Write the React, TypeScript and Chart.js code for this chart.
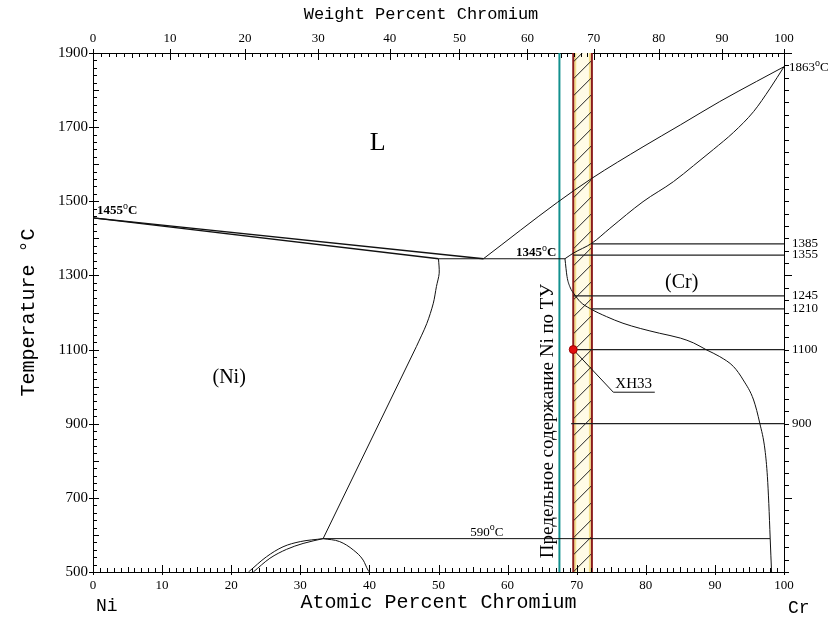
import React, { useEffect, useRef } from "react";
import { Chart, registerables } from "chart.js";

Chart.register(...registerables);

// ---- axis tick labels ----
const AT_TICKS = [0, 10, 20, 30, 40, 50, 60, 70, 80, 90, 100];
const WT_TICKS = [0, 10, 20, 30, 40, 50, 60, 70, 80, 90, 100];
const TEMP_TICKS = [500, 700, 900, 1100, 1300, 1500, 1700, 1900];
const RIGHT_TICKS = [900, 1100, 1210, 1245, 1355, 1385];

// ---- phase boundaries (atomic % Cr, °C) ----
const NI_LIQUIDUS: number[][] = [[0, 1455], [56.5, 1345]];
const NI_SOLIDUS: number[][] = [[0, 1455], [50, 1345]];
const EUTECTIC: number[][] = [[50, 1345], [68.3, 1345]];
const CR_LIQUIDUS: number[][] = [
  [56.5, 1345], [67.2, 1497], [72.2, 1562], [79.6, 1647], [85, 1706],
  [90.7, 1769], [96, 1823], [100, 1863],
];
const CR_SOLIDUS: number[][] = [
  [68.3, 1345], [69.5, 1360], [72.2, 1387], [74.8, 1427], [79.6, 1499],
  [84, 1553], [86.9, 1596], [89.8, 1640], [92.7, 1686], [95.6, 1742],
  [98, 1805], [100, 1863],
];
const NI_SOLVUS_TOP: number[][] = [
  [50, 1345], [50.1, 1306], [49.7, 1270], [49.25, 1225], [48.3, 1170], [46.8, 1108],
];
const NI_SOLVUS_LOW: number[][] = [[46.8, 1108], [33.3, 590]];
const CR_SOLVUS: number[][] = [
  [68.3, 1345], [68.6, 1297], [69, 1270], [69.75, 1247], [70.5, 1229],
  [71.9, 1211], [74.3, 1189], [76.7, 1171], [79.2, 1157], [82, 1144],
  [85, 1131], [86.9, 1118], [88.8, 1099], [90.7, 1081], [92.7, 1054],
  [94.1, 1018], [95.6, 964], [96.5, 901], [97.25, 829], [97.6, 757],
  [97.8, 685], [98, 591], [98.2, 500],
];
const EUTECTOID: number[][] = [[33.3, 590], [98, 590]];
const DOME_OUTER: number[][] = [[22.5, 500], [25.1, 541], [27.5, 568], [30, 582], [33.3, 590]];
const DOME_INNER: number[][] = [[23.2, 500], [25.6, 537], [28, 561], [30.4, 577], [33.3, 590]];
const DOME_RIGHT: number[][] = [[33.3, 590], [35.7, 582], [37.7, 559], [39.1, 532], [39.8, 505], [40, 500]];

// ---- isotherms to the right axis: [temperature, start x] ----
const ISO_TEMPS = [1385, 1355, 1245, 1210, 1100, 900];
const ISO_START = [72.2, 69.5, 69.5, 72.2, 69.5, 69.2];

// ---- marks ----
const NI_LIMIT = 67.5;          // teal line
const BAND = [69.5, 72.2];      // hatched band
const ALLOY: number[] = [69.5, 1100]; // ХН33 point
const LEADER: number[][] = [[69.5, 1100], [75.3, 985], [81.3, 985]];

const CR_MASS = 51.996;
const NI_MASS = 58.693;
const wtToAt = (w: number) => {
  if (w <= 0) return 0;
  if (w >= 100) return 100;
  const a = w / CR_MASS;
  const b = (100 - w) / NI_MASS;
  return (100 * a) / (a + b);
};

const pts = (arr: number[][]) => arr.map(([x, y]) => ({ x, y }));
const line = (arr: number[][], color = "#111", width = 1, smooth: "none" | "mono" | "soft" = "none") => ({
  data: pts(arr),
  showLine: true,
  borderColor: color,
  borderWidth: width,
  pointRadius: 0,
  tension: smooth === "soft" ? 0.3 : smooth === "mono" ? 0.4 : 0,
  cubicInterpolationMode: smooth === "mono" ? "monotone" : "default",
  fill: false,
});

const SERIF = "'Liberation Serif', 'Times New Roman', serif";
const MONO = "'Liberation Mono', 'Courier New', monospace";
const plain = (v: any) => String(v);

const decoPlugin = {
  id: "deco",
  beforeDatasetsDraw(chart: any) {
    const { ctx, chartArea: ca, scales } = chart;
    const x = scales.x;
    const x1 = x.getPixelForValue(BAND[0]);
    const x2 = x.getPixelForValue(BAND[1]);
    const h = ca.bottom - ca.top;
    ctx.save();
    ctx.fillStyle = "#fffbe6";
    ctx.fillRect(x1, ca.top, x2 - x1, h);
    ctx.fillStyle = "#f3df8a";
    ctx.fillRect(x1 + 1, ca.top, 2, h);
    ctx.fillRect(x2 - 3, ca.top, 2, h);
    ctx.beginPath();
    ctx.rect(x1, ca.top, x2 - x1, h);
    ctx.clip();
    ctx.beginPath();
    ctx.strokeStyle = "#222";
    ctx.lineWidth = 1;
    const w = x2 - x1;
    for (let yy = ca.bottom; yy > ca.top - w; yy -= 17) {
      ctx.moveTo(x1, yy);
      ctx.lineTo(x2, yy - w);
    }
    ctx.stroke();
    ctx.restore();
  },
  afterDraw(chart: any) {
    const { ctx, chartArea: ca, scales } = chart;
    const x = scales.x;
    const y = scales.y;
    ctx.save();
    ctx.strokeStyle = "#000";
    ctx.lineWidth = 1;
    ctx.beginPath();
    // bottom ticks (atomic %)
    for (let v = 0; v <= 100; v++) {
      const px = Math.round(x.getPixelForValue(v)) + 0.5;
      if (v % 10 === 0) {
        ctx.moveTo(px, ca.bottom + 3);
        ctx.lineTo(px, ca.bottom - 7);
      } else {
        ctx.moveTo(px, ca.bottom);
        ctx.lineTo(px, ca.bottom - (v % 5 === 0 ? 5 : 4));
      }
    }
    // top ticks (weight %)
    for (let w = 0; w <= 100; w++) {
      const px = Math.round(x.getPixelForValue(wtToAt(w))) + 0.5;
      if (w % 10 === 0) {
        ctx.moveTo(px, ca.top - 4);
        ctx.lineTo(px, ca.top + 7);
      } else {
        ctx.moveTo(px, ca.top);
        ctx.lineTo(px, ca.top + (w % 5 === 0 ? 5 : 4));
      }
    }
    // left ticks
    for (let t = 500; t <= 1900; t += 20) {
      const py = Math.round(y.getPixelForValue(t)) + 0.5;
      if (t % 200 === 100) {
        ctx.moveTo(ca.left - 4, py);
        ctx.lineTo(ca.left + 6, py);
      } else if (t % 100 === 0) {
        ctx.moveTo(ca.left, py);
        ctx.lineTo(ca.left + 6, py);
      } else {
        ctx.moveTo(ca.left, py);
        ctx.lineTo(ca.left + 4, py);
      }
    }
    // right ticks
    for (let k = 0; k <= 42; k++) {
      const t = 500 + (k * 100) / 3;
      const py = Math.round(y.getPixelForValue(t)) + 0.5;
      ctx.moveTo(ca.right, py);
      ctx.lineTo(ca.right + (k % 18 === 6 ? 8 : 5), py);
    }
    ctx.stroke();

    // texts
    ctx.fillStyle = "#000";
    const txt = (s: string, px: number, py: number, font: string, align: any = "left", base: any = "alphabetic") => {
      ctx.font = font;
      ctx.textAlign = align;
      ctx.textBaseline = base;
      ctx.fillText(s, px, py);
    };
    const deg = (num: string, px: number, py: number, size: number, align: "left" | "right" = "left", bold = false) => {
      const f = `${bold ? "bold " : ""}${size}px ${SERIF}`;
      const fs = `${Math.round(size * 0.75)}px ${SERIF}`;
      ctx.font = f;
      const w1 = ctx.measureText(num).width;
      const wc = ctx.measureText("C").width;
      ctx.font = fs;
      const wo = ctx.measureText("o").width;
      const total = w1 + wo + wc;
      const sx = align === "left" ? px : px - total;
      ctx.textAlign = "left";
      ctx.textBaseline = "alphabetic";
      ctx.font = f;
      ctx.fillText(num, sx, py);
      ctx.font = fs;
      ctx.fillText("o", sx + w1, py - size * 0.4);
      ctx.font = f;
      ctx.fillText("C", sx + w1 + wo, py);
    };

    txt("L", x.getPixelForValue(41.2), y.getPixelForValue(1657), `26px ${SERIF}`, "center", "middle");
    txt("(Ni)", x.getPixelForValue(19.7), y.getPixelForValue(1023), `20px ${SERIF}`, "center", "middle");
    txt("(Cr)", x.getPixelForValue(85.2), y.getPixelForValue(1280), `20px ${SERIF}`, "center", "middle");

    deg("1455", x.getPixelForValue(0) + 4, y.getPixelForValue(1455) - 4, 13, "left", true);
    deg("1345", x.getPixelForValue(NI_LIMIT) - 3, y.getPixelForValue(1345) - 3, 13, "right", true);
    deg("590", x.getPixelForValue(54.6), y.getPixelForValue(590) - 3, 13, "left");
    deg("1863", x.getPixelForValue(100) + 5, y.getPixelForValue(1863) + 4, 13, "left");

    txt("ХН33", x.getPixelForValue(LEADER[1][0]) + 2, y.getPixelForValue(LEADER[1][1]) - 4, `15px ${SERIF}`);

    // vertical russian label
    ctx.save();
    ctx.translate(x.getPixelForValue(65.85), y.getPixelForValue(907));
    ctx.rotate(-Math.PI / 2);
    txt("Предельное содержание Ni по ТУ", 0, 0, `19px ${SERIF}`, "center", "middle");
    ctx.restore();

    txt("Weight Percent Chromium", 421, 14, `17px ${MONO}`, "center", "middle");
    txt("Ni", x.getPixelForValue(0) + 3, 611, `18px ${MONO}`, "left", "alphabetic");
    txt("Cr", x.getPixelForValue(100) + 4, 613, `18px ${MONO}`, "left", "alphabetic");
    ctx.restore();
  },
};

export default function App() {
  const ref = useRef<HTMLCanvasElement | null>(null);
  useEffect(() => {
    if (!ref.current) return;
    const datasets: any[] = [
      {
        data: [{ x: ALLOY[0], y: ALLOY[1] }],
        showLine: false,
        pointRadius: 4,
        pointBackgroundColor: "#e01010",
        pointBorderColor: "#a00000",
        borderWidth: 1,
      },
      line(LEADER, "#111", 1),
      line(NI_LIQUIDUS, "#111", 1.3),
      line(NI_SOLIDUS, "#111", 1.3),
      line(EUTECTIC, "#111", 1.2),
      line(CR_LIQUIDUS, "#111", 1, "mono"),
      line(CR_SOLIDUS, "#111", 1, "mono"),
      line(NI_SOLVUS_TOP, "#111", 1, "soft"),
      line(NI_SOLVUS_LOW, "#111", 1),
      line(CR_SOLVUS, "#111", 1, "mono"),
      line(EUTECTOID, "#111", 1),
      line(DOME_OUTER, "#111", 1, "mono"),
      line(DOME_INNER, "#111", 1, "mono"),
      line(DOME_RIGHT, "#111", 1, "mono"),
      ...ISO_TEMPS.map((t, i) => line([[ISO_START[i], t], [100, t]], "#222", 1.2)),
      line([[NI_LIMIT, 500], [NI_LIMIT, 1900]], "#13908e", 2),
      line([[BAND[0], 500], [BAND[0], 1900]], "#8b1c1c", 2),
      line([[BAND[1], 500], [BAND[1], 1900]], "#8b1c1c", 2),
    ];
    const chart = new Chart(ref.current, {
      type: "scatter",
      data: { datasets },
      options: {
        animation: false,
        responsive: false,
        events: [],
        layout: { padding: 0 },
        plugins: { legend: { display: false }, tooltip: { enabled: false } },
        scales: {
          x: {
            type: "linear",
            position: "bottom",
            min: 0,
            max: 100,
            afterFit: (s: any) => { s.height = 51; },
            afterBuildTicks: (s: any) => { s.ticks = AT_TICKS.map((v) => ({ value: v })); },
            ticks: { autoSkip: false, maxRotation: 0, padding: 6, color: "#000", font: { family: SERIF, size: 13 }, callback: plain },
            grid: { drawOnChartArea: false, drawTicks: false },
            border: { display: true, color: "#000", width: 1 },
            title: { display: true, text: "Atomic Percent Chromium", color: "#000", font: { family: MONO, size: 20, lineHeight: 1.6 } },
          },
          x2: {
            type: "linear",
            position: "top",
            min: 0,
            max: 100,
            afterFit: (s: any) => { s.height = 53; },
            afterBuildTicks: (s: any) => { s.ticks = WT_TICKS.map((w) => ({ value: wtToAt(w) })); },
            ticks: {
              autoSkip: false, maxRotation: 0, padding: 7, color: "#000",
              font: { family: SERIF, size: 13 },
              callback: (_v: any, i: number) => String(WT_TICKS[i]),
            },
            grid: { drawOnChartArea: false, drawTicks: false },
            border: { display: true, color: "#000", width: 1 },
          },
          y: {
            type: "linear",
            position: "left",
            min: 500,
            max: 1900,
            afterFit: (s: any) => { s.width = 93; },
            afterBuildTicks: (s: any) => { s.ticks = TEMP_TICKS.map((v) => ({ value: v })); },
            ticks: { autoSkip: false, padding: 5, color: "#000", font: { family: SERIF, size: 15 }, callback: plain },
            grid: { drawOnChartArea: false, drawTicks: false },
            border: { display: true, color: "#000", width: 1 },
            title: { display: true, text: "Temperature °C", color: "#000", font: { family: MONO, size: 20, lineHeight: 2.5 } },
          },
          y2: {
            type: "linear",
            position: "right",
            min: 500,
            max: 1900,
            afterFit: (s: any) => { s.width = 55; },
            afterBuildTicks: (s: any) => { s.ticks = RIGHT_TICKS.map((v) => ({ value: v })); },
            ticks: { autoSkip: false, padding: 8, color: "#000", font: { family: SERIF, size: 13 }, callback: plain },
            grid: { drawOnChartArea: false, drawTicks: false },
            border: { display: true, color: "#000", width: 1 },
          },
        },
      } as any,
      plugins: [decoPlugin],
    });
    return () => chart.destroy();
  }, []);
  return (
    <div style={{ position: "absolute", left: 0, top: 0, width: 839, height: 623, background: "#fff" }}>
      <canvas ref={ref} width={839} height={623} style={{ display: "block" }} />
    </div>
  );
}
